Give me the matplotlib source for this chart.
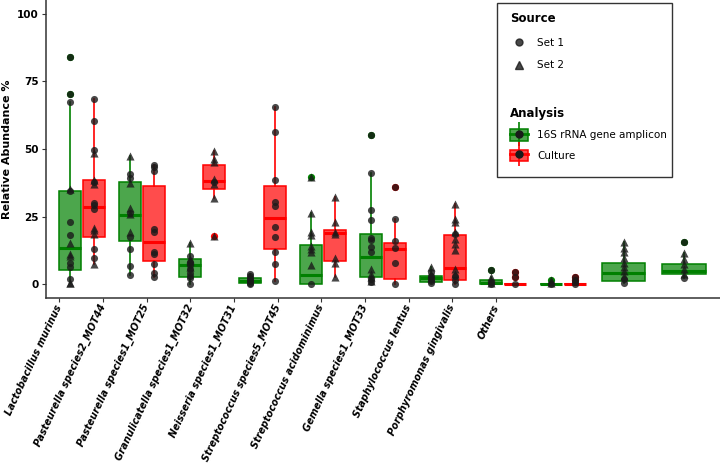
import numpy as np
import matplotlib
matplotlib.use("Agg")
import matplotlib.pyplot as plt
from matplotlib.lines import Line2D
from matplotlib.patches import Patch, Rectangle

categories = ["Lactobacillus murinus", "Pasteurella species2_MOT44",
              "Pasteurella species1_MOT25", "Granulicatella species1_MOT32",
              "Neisseria species1_MOT31", "Streptococcus species5_MOT45",
              "Streptococcus acidominimus", "Gemella species1_MOT33",
              "Staphylococcus lentus", "Porphyromonas gingivalis", "Others"]

# 16S rRNA gene amplicon: Set 1 (circles), Set 2 (triangles)
amp_set1 = [[83.8, 70.4, 67.2, 34.5, 23.2, 18.3, 8.1, 6.3, 2.0],
            [40.7, 39.4, 26.5, 17.7, 13.0, 6.9, 3.5],
            [10.5, 8.2, 7.1, 5.6, 4.4, 3.1, 2.2, 0.1],
            [4.0, 3.3, 2.5, 1.8, 1.2, 0.6, 0.2],
            [0.1],
            [55.0, 41.0, 27.5, 23.7, 17.3, 16.4, 14.0, 12.0, 2.0, 1.0],
            [4.5, 3.0, 2.0, 1.2, 0.5],
            [5.4, 1.0, 0.3],
            [0.3],
            [2.0, 0.5],
            [15.7, 2.2]]
amp_set2 = [[35.3, 15.3, 11.2, 10.5, 0.7, 0.5],
            [47.6, 37.6, 28.4, 25.9, 19.2],
            [15.3, 9.3, 8.8, 6.5],
            [],
            [39.7, 26.5, 19.2, 18.3, 14.2, 13.0, 11.8, 7.0],
            [5.6, 3.8, 2.6, 1.3],
            [6.3, 4.0, 2.5],
            [2.9, 1.5, 0.5],
            [1.7, 0.6],
            [15.5, 13.6, 11.8, 9.6, 8.1, 6.6, 5.0, 3.2],
            [11.5, 9.3, 7.5, 5.6, 3.8]]
# box stats: whisker low, Q1, median, Q3, whisker high
amp_box = [[0.5, 5.5, 13.3, 34.5, 67.2],
           [3.5, 16.0, 25.7, 37.7, 47.6],
           [0.1, 2.9, 7.0, 9.3, 15.3],
           [0.2, 0.5, 1.3, 2.2, 4.0],
           [0.1, 0.2, 3.6, 14.7, 26.5],
           [1.0, 2.8, 10.2, 18.7, 41.0],
           [0.5, 1.0, 2.2, 3.3, 6.3],
           [0.0, 0.0, 0.7, 1.5, 2.9],
           [0.0, 0.0, 0.05, 0.2, 0.3],
           [0.5, 1.1, 4.4, 8.1, 15.5],
           [2.2, 3.8, 5.0, 7.7, 11.5]]
amp_out = [[70.4, 83.8], [], [], [], [39.7], [55.0], [], [5.4], [1.7], [], [15.7]]

# Culture
cul_set1 = [[68.6, 60.4, 49.8, 38.0, 30.0, 29.2, 27.8, 13.1, 9.9],
            [44.1, 43.4, 41.8, 20.6, 19.2, 12.0, 11.2, 7.7, 4.2, 2.8],
            [38.0],
            [65.6, 56.4, 38.7, 30.4, 29.0, 21.2, 17.5, 11.8, 7.7, 1.3],
            [],
            [36.0, 24.3, 16.1, 13.3, 7.9, 0.0],
            [18.8, 3.2, 1.6, 0.0],
            [4.6, 2.9, 0.0],
            [2.8, 1.8, 0.8, 0.2],
            None, None]
cul_set2 = [[48.6, 38.7, 37.2, 21.0, 20.0, 18.5, 7.7],
            [],
            [49.2, 46.2, 45.3, 38.8, 37.0, 31.8, 17.9],
            [],
            [32.2, 23.1, 19.2, 18.5, 9.6, 8.1, 2.9],
            [],
            [29.8, 24.2, 23.1, 19.2, 16.7, 15.0, 12.6, 5.6, 4.0],
            [],
            [],
            None, None]
cul_box = [[7.7, 17.7, 28.7, 38.4, 68.6],
           [2.8, 8.6, 15.6, 36.5, 44.1],
           [31.8, 35.4, 38.3, 44.2, 49.2],
           [1.3, 13.0, 24.7, 36.5, 65.6],
           [2.9, 8.7, 18.9, 20.1, 32.2],
           [0.0, 2.0, 13.0, 15.2, 24.3],
           [0.0, 1.7, 5.9, 18.1, 29.8],
           [0.0, 0.0, 0.0, 0.0, 0.0],
           [0.0, 0.0, 0.0, 0.1, 0.2],
           None, None]
cul_out = [[], [], [17.9], [], [], [36.0], [], [4.6, 2.9], [2.8, 1.8], [], []]

GREEN = (0.0, 0.5, 0.0)
RED = (1.0, 0.0, 0.0)
PT = "#1a1a1a"

fig = plt.figure(figsize=(7.2, 4.75), dpi=100)
ax = fig.add_axes([45.9 / 720, 177 / 475, 673.9 / 720, 298 / 475])

def draw(boxes, outs, s1, s2, col, side):
    stats, pos, wid = [], [], []
    for i, b in enumerate(boxes):
        if b is None:
            continue
        paired = amp_box[i] is not None and cul_box[i] is not None
        x = i + side * 0.2 if paired else i
        stats.append(dict(whislo=b[0], q1=b[1], med=b[2], q3=b[3], whishi=b[4],
                          fliers=outs[i]))
        pos.append(x)
        wid.append(0.365 if paired else 0.73)
        ax.scatter([x] * len(s1[i]), s1[i], marker="o", s=26, c=PT, alpha=0.8,
                   lw=0, zorder=4)
        ax.scatter([x] * len(s2[i]), s2[i], marker="^", s=34, c=PT, alpha=0.8,
                   lw=0, zorder=4)
    ax.bxp(stats, positions=pos, widths=wid, patch_artist=True, showcaps=False,
           manage_ticks=False,
           boxprops=dict(facecolor=col + (0.7,), edgecolor=col, lw=1.1),
           whiskerprops=dict(color=col, lw=1.2),
           medianprops=dict(color=col, lw=2.2),
           flierprops=dict(marker="o", markerfacecolor=col, markeredgecolor="none",
                           markersize=5.2))

draw(amp_box, amp_out, amp_set1, amp_set2, GREEN, -1)
draw(cul_box, cul_out, cul_set1, cul_set2, RED, 1)

ax.set_xlim(-0.6, 10.6)
ax.set_ylim(-5, 105)
ax.set_yticks([0, 25, 50, 75, 100])
ax.set_yticklabels(["0", "25", "50", "75", "100"], fontsize=7.5, fontweight="bold")
# the tick labels in the original are squeezed and don't line up with the boxes
ax.set_xticks(np.arange(len(categories)) * 0.726 - 0.377)
ax.set_xticklabels(categories, rotation=65, ha="right", va="center",
                   rotation_mode="anchor", fontsize=7.0, fontweight="bold",
                   fontstyle="italic")
ax.tick_params(length=3, width=0.8, color="#333333", pad=2)
ax.set_ylabel("Relative Abundance %", fontsize=8, fontweight="bold", labelpad=4)
for s in ["top", "right"]:
    ax.spines[s].set_visible(False)
for s in ["left", "bottom"]:
    ax.spines[s].set_color("#333333")
    ax.spines[s].set_linewidth(1.1)

# legend
fig.patches.append(Rectangle((497 / 720, 1 - 177 / 475), 175 / 720, 174 / 475,
                             transform=fig.transFigure, fill=False,
                             ec="#333333", lw=1.0, zorder=10))
src_handles = [Line2D([], [], ls="none", marker="o", ms=5, color=PT, alpha=0.8),
               Line2D([], [], ls="none", marker="^", ms=5.5, color=PT, alpha=0.8)]
leg1 = fig.legend(src_handles, ["Set 1", "Set 2"], title="Source",
                  loc="upper left", bbox_to_anchor=(505 / 720, 1 - 7 / 475),
                  frameon=False, alignment="left", fontsize=7.5,
                  title_fontproperties=dict(weight="bold", size=8.5),
                  handlelength=1.75, handletextpad=0.85, borderpad=0,
                  labelspacing=1.2)

def box_key(col):
    return (Line2D([], [], ls="none", marker="|", ms=17, mew=1.2, color=col),
            Patch(facecolor=col + (0.7,), edgecolor=col, lw=1.1),
            Line2D([], [], color=col, lw=2, marker="o", ms=5,
                   mfc=PT, mec=PT))

leg2 = fig.legend([box_key(GREEN), box_key(RED)],
                  ["16S rRNA gene amplicon", "Culture"], title="Analysis",
                  loc="upper left", bbox_to_anchor=(505 / 720, 1 - 102 / 475),
                  frameon=False, alignment="left", fontsize=7.5,
                  title_fontproperties=dict(weight="bold", size=8.5),
                  handlelength=1.75, handleheight=1.35, handletextpad=0.85,
                  borderpad=0, labelspacing=0.85)

fig.savefig("out.png", dpi=100)
